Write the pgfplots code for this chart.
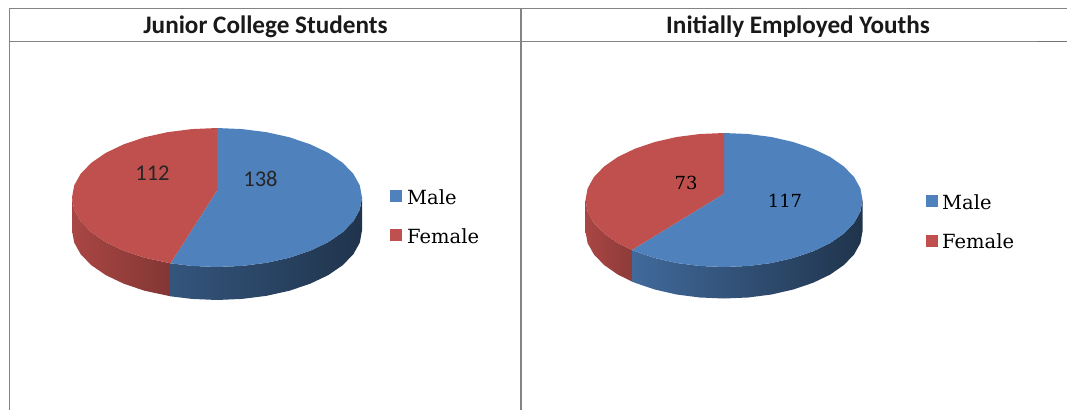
\documentclass[border=0pt]{standalone}
\usepackage{fontspec}
\setmainfont{DejaVu Serif}
\newfontfamily\calibrilike{Carlito}
\usepackage{pgfplots}
\pgfplotsset{compat=1.18}

\definecolor{maleblue}{HTML}{4F81BD}
\definecolor{femalered}{HTML}{C0504D}
\definecolor{framegray}{HTML}{848484}

\newcommand{\headtext}[1]{{\calibrilike\bfseries\fontsize{25.2}{28}\selectfont #1}}
\newcommand{\slicetext}[1]{{\calibrilike\fontsize{22.5}{24}\selectfont #1}}
\newcommand{\valuetext}[1]{{\fontsize{18}{20}\selectfont #1}}
\newcommand{\keytext}[1]{{\fontsize{19.5}{22}\selectfont #1}}

\begin{document}
\begin{tikzpicture}
\begin{axis}[
  x=1pt, y=1pt, xmin=0, xmax=1067, ymin=0, ymax=410,
  y dir=reverse, hide axis, scale only axis,
  clip=true, clip mode=individual,
]
% keep the full drawing area in the page box
\path (axis cs:0,0) (axis cs:1067,410);

% table rules
\addplot[framegray, line width=1.6pt] coordinates {(9.5,410) (9.5,8.5) (1067,8.5)};
\addplot[framegray, line width=1.6pt] coordinates {(9.5,41.5) (1067,41.5)};
\addplot[framegray, line width=1.6pt] coordinates {(521,8.5) (521,410)};
\addplot[gray!90!black, line width=1.6pt] coordinates {(1037,41.5) (1067,41.5)};

% Junior College Students: side walls (138 male, 112 female of 250)
\addplot[draw=none, left color=femalered!88!black, right color=femalered!68!black] coordinates {
 (170.5,263.3) (144.5,257.7) (123.8,250.7) (105.9,242.2) (91.4,232.25) (80.7,221.3) (74.2,209.6) (72,197.5)
 (72,230.5) (74.2,242.6) (80.7,254.3) (91.4,265.25) (105.9,275.2) (123.8,283.7) (144.5,290.7) (170.5,296.3)};
\addplot[draw=none, left color=maleblue!66!black, middle color=maleblue!48!black, right color=maleblue!40!black] coordinates {
 (170.5,263.3) (191.8,265.9) (217,267) (242.2,265.9) (266.6,262.8) (289.5,257.7) (310.2,250.7) (328.1,242.2)
 (342.6,232.25) (353.3,221.3) (359.8,209.6) (362,197.5)
 (362,230.5) (359.8,242.6) (353.3,254.3) (342.6,265.25) (328.1,275.2) (310.2,283.7) (289.5,290.7) (266.6,295.8)
 (242.2,298.9) (217,300) (191.8,298.9) (170.5,296.3)};
% Junior College Students: top faces
\addplot[draw=none, fill=maleblue] coordinates {
 (217,190.5) (217,128) (242.2,129.1) (266.6,132.2) (289.5,137.3) (310.2,144.3) (328.1,152.8) (342.6,162.75)
 (353.3,173.7) (359.8,185.4) (362,197.5) (359.8,209.6) (353.3,221.3) (342.6,232.25) (328.1,242.2) (310.2,250.7)
 (289.5,257.7) (266.6,262.8) (242.2,265.9) (217,267) (191.8,265.9) (170.5,263.3)};
\addplot[draw=none, fill=femalered] coordinates {
 (217,190.5) (170.5,263.3) (144.5,257.7) (123.8,250.7) (105.9,242.2) (91.4,232.25) (80.7,221.3) (74.2,209.6)
 (72,197.5) (74.2,185.4) (80.7,173.7) (91.4,162.75) (105.9,152.8) (123.8,144.3) (144.5,137.3) (167.4,132.2)
 (191.8,129.1) (217,128)};

% Initially Employed Youths: side walls (117 male, 73 female of 190)
\addplot[draw=none, left color=femalered!88!black, right color=femalered!74!black] coordinates {
 (631.9,250) (617.9,243.1) (604.1,233.5) (593.9,222.9) (587.6,211.6) (585.5,200)
 (585.5,231.5) (587.6,243.1) (593.9,254.4) (604.1,265) (617.9,274.6) (631.9,281.5)};
\addplot[draw=none, left color=maleblue!82!black, middle color=maleblue!50!black, right color=maleblue!40!black] coordinates {
 (631.9,250) (635,251.3) (654.75,258) (676.6,263) (700,266) (724,267) (748,266) (771.4,263) (793.25,258)
 (813,251.3) (830.1,243.1) (843.9,233.5) (854.1,222.9) (860.4,211.6) (862.5,200)
 (862.5,231.5) (860.4,243.1) (854.1,254.4) (843.9,265) (830.1,274.6) (813,282.8) (793.25,289.5) (771.4,294.5)
 (748,297.5) (724,298.5) (700,297.5) (676.6,294.5) (654.75,289.5) (635,282.8) (631.9,281.5)};
% Initially Employed Youths: top faces
\addplot[draw=none, fill=maleblue] coordinates {
 (724,193.5) (724,133) (748,134) (771.4,137) (793.25,142) (813,148.7) (830.1,156.9) (843.9,166.5) (854.1,177.1)
 (860.4,188.4) (862.5,200) (860.4,211.6) (854.1,222.9) (843.9,233.5) (830.1,243.1) (813,251.3) (793.25,258)
 (771.4,263) (748,266) (724,267) (700,266) (676.6,263) (654.75,258) (635,251.3) (631.9,250)};
\addplot[draw=none, fill=femalered] coordinates {
 (724,193.5) (631.9,250) (617.9,243.1) (604.1,233.5) (593.9,222.9) (587.6,211.6) (585.5,200) (587.6,188.4)
 (593.9,177.1) (604.1,166.5) (617.9,156.9) (635,148.7) (654.75,142) (676.6,137) (700,134) (724,133)};

% legend keys
\addplot[only marks, mark=square*, mark size=5.5pt, color=maleblue] coordinates {(396,196) (931.5,201)};
\addplot[only marks, mark=square*, mark size=5.5pt, color=femalered] coordinates {(396,235) (931.5,241)};

% panel headings
\node[text=black!90] at (axis cs:265.5,27) {\headtext{Junior College Students}};
\node[text=black!90] at (axis cs:798,27) {\headtext{Initially Employed Youths}};

% slice values
\node[text=black!85] at (axis cs:152.5,173) {\slicetext{112}};
\node[text=black!85] at (axis cs:260.5,179) {\slicetext{138}};
\node[text=black] at (axis cs:686,183) {\valuetext{73}};
\node[text=black] at (axis cs:785,201) {\valuetext{117}};

% legend text
\node[anchor=west, inner sep=0pt] at (axis cs:407,197) {\keytext{Male}};
\node[anchor=west, inner sep=0pt] at (axis cs:407,236) {\keytext{Female}};
\node[anchor=west, inner sep=0pt] at (axis cs:942,202) {\keytext{Male}};
\node[anchor=west, inner sep=0pt] at (axis cs:942,241) {\keytext{Female}};
\end{axis}
\end{tikzpicture}
\end{document}
